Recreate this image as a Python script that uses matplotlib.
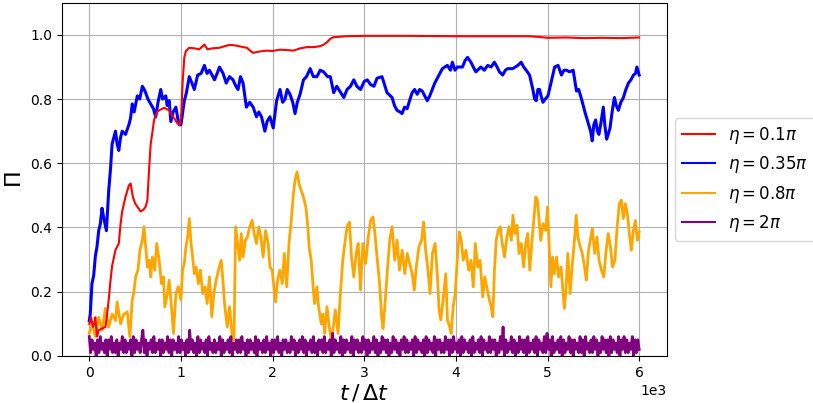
import matplotlib
matplotlib.use("Agg")
import matplotlib.pyplot as plt

# ---- data ----
red_t = [0, 20, 40, 55, 66, 84, 103, 140, 176, 195, 212, 230, 249, 286, 322, 341, 359, 395, 432, 451,
         476, 500, 524, 560, 590, 615, 634, 652, 670, 690, 707, 740, 762, 817, 872, 900, 927, 960, 990, 1005,
         1018, 1037, 1055, 1091, 1150, 1200, 1256, 1290, 1340, 1421, 1480, 1531, 1600, 1678, 1720, 1760, 1788,
         1850, 1934, 2000, 2081, 2150, 2227, 2300, 2374, 2450, 2520, 2560, 2593, 2630, 2667, 2720, 2813, 3000,
         3500, 4000, 4500, 4786, 4900, 5000, 5200, 5400, 5600, 5800, 6000]
red_v = [0.10, 0.12, 0.09, 0.10, 0.12, 0.06, 0.08, 0.085, 0.09, 0.13, 0.175, 0.23, 0.28, 0.33, 0.35, 0.41, 0.45,
         0.495, 0.531, 0.537, 0.495, 0.475, 0.465, 0.45, 0.455, 0.465, 0.485, 0.578, 0.66, 0.70, 0.735, 0.76,
         0.765, 0.773, 0.765, 0.75, 0.74, 0.725, 0.72, 0.76, 0.85, 0.93, 0.95, 0.96, 0.958, 0.955, 0.97, 0.955,
         0.958, 0.96, 0.965, 0.969, 0.967, 0.962, 0.96, 0.95, 0.944, 0.948, 0.951, 0.95, 0.954, 0.953, 0.951,
         0.958, 0.962, 0.962, 0.965, 0.97, 0.977, 0.988, 0.993, 0.994, 0.996, 0.997, 0.997, 0.996, 0.996, 0.996,
         0.994, 0.991, 0.992, 0.99, 0.991, 0.99, 0.992]

blue_t = [0, 11, 29, 48, 66, 84, 103, 121, 139, 158, 187, 212, 231, 249, 268, 286, 304, 322, 341, 359, 395, 432,
          450, 469, 490, 524, 550, 579, 600, 615, 640, 670, 700, 725, 750, 780, 800, 835, 850, 872, 890, 915, 945,
          965, 982, 1000, 1037, 1060, 1091, 1120, 1146, 1183, 1220, 1256, 1285, 1311, 1340, 1366, 1395, 1421, 1460,
          1494, 1530, 1568, 1600, 1623, 1650, 1678, 1714, 1750, 1788, 1824, 1850, 1879, 1900, 1916, 1940, 1971,
          2007, 2044, 2081, 2110, 2136, 2160, 2190, 2220, 2245, 2270, 2300, 2337, 2370, 2410, 2445, 2484, 2520,
          2557, 2600, 2630, 2667, 2700, 2722, 2777, 2813, 2850, 2886, 2920, 2960, 3000, 3033, 3070, 3106, 3140,
          3194, 3249, 3304, 3330, 3358, 3390, 3413, 3440, 3468, 3500, 3523, 3550, 3578, 3605, 3633, 3660, 3688,
          3715, 3743, 3770, 3798, 3853, 3907, 3940, 3962, 3990, 4017, 4072, 4100, 4127, 4164, 4190, 4218, 4273,
          4310, 4347, 4385, 4420, 4450, 4475, 4511, 4540, 4566, 4621, 4676, 4712, 4740, 4767, 4804, 4840, 4860,
          4877, 4895, 4913, 4930, 4950, 4975, 5005, 5042, 5078, 5115, 5152, 5180, 5206, 5240, 5280, 5316, 5340,
          5371, 5408, 5444, 5470, 5488, 5505, 5525, 5545, 5561, 5585, 5609, 5625, 5645, 5662, 5682, 5705, 5730,
          5750, 5773, 5800, 5828, 5855, 5883, 5910, 5938, 5960, 5975, 6000]
blue_v = [0.11, 0.13, 0.225, 0.25, 0.31, 0.34, 0.39, 0.412, 0.46, 0.43, 0.39, 0.515, 0.58, 0.66, 0.68, 0.70, 0.66,
          0.64, 0.68, 0.70, 0.69, 0.72, 0.74, 0.785, 0.76, 0.81, 0.80, 0.84, 0.83, 0.82, 0.80, 0.785, 0.77, 0.745,
          0.79, 0.83, 0.80, 0.81, 0.78, 0.795, 0.73, 0.76, 0.775, 0.74, 0.72, 0.72, 0.795, 0.82, 0.87, 0.85, 0.83,
          0.875, 0.88, 0.905, 0.88, 0.89, 0.875, 0.86, 0.88, 0.90, 0.88, 0.85, 0.87, 0.86, 0.84, 0.83, 0.87, 0.85,
          0.775, 0.79, 0.775, 0.745, 0.76, 0.745, 0.72, 0.70, 0.73, 0.745, 0.71, 0.795, 0.83, 0.79, 0.80, 0.83,
          0.815, 0.79, 0.755, 0.79, 0.815, 0.86, 0.87, 0.895, 0.87, 0.87, 0.89, 0.885, 0.87, 0.87, 0.82, 0.84,
          0.83, 0.805, 0.83, 0.84, 0.86, 0.84, 0.83, 0.855, 0.86, 0.845, 0.84, 0.865, 0.87, 0.82, 0.805, 0.78,
          0.765, 0.76, 0.755, 0.775, 0.77, 0.80, 0.82, 0.83, 0.815, 0.83, 0.825, 0.81, 0.795, 0.81, 0.83, 0.85,
          0.865, 0.895, 0.905, 0.89, 0.915, 0.89, 0.90, 0.90, 0.92, 0.93, 0.915, 0.90, 0.885, 0.90, 0.89, 0.905,
          0.90, 0.915, 0.90, 0.885, 0.875, 0.89, 0.895, 0.895, 0.905, 0.915, 0.90, 0.89, 0.875, 0.83, 0.80, 0.795,
          0.83, 0.83, 0.81, 0.79, 0.80, 0.81, 0.855, 0.90, 0.905, 0.875, 0.89, 0.89, 0.885, 0.89, 0.825, 0.83,
          0.80, 0.76, 0.725, 0.70, 0.67, 0.72, 0.735, 0.70, 0.69, 0.73, 0.775, 0.72, 0.675, 0.69, 0.71, 0.76,
          0.805, 0.78, 0.765, 0.79, 0.805, 0.83, 0.85, 0.86, 0.875, 0.88, 0.90, 0.875]

orange_t = [0, 29, 66, 103, 139, 176, 212, 249, 286, 304, 341, 377, 414, 443, 469, 487, 505, 531, 553, 579, 597,
            615, 634, 652, 670, 689, 714, 736, 762, 788, 810, 824, 853, 872, 897, 919, 945, 971, 1000, 1018, 1037,
            1055, 1073, 1092, 1110, 1128, 1146, 1165, 1190, 1212, 1238, 1264, 1286, 1311, 1337, 1359, 1385, 1410,
            1440, 1458, 1476, 1505, 1531, 1557, 1579, 1597, 1623, 1641, 1659, 1678, 1703, 1725, 1751, 1777, 1799,
            1824, 1850, 1872, 1897, 1923, 1952, 1971, 1996, 2018, 2033, 2055, 2080, 2106, 2128, 2154, 2179, 2201,
            2227, 2245, 2267, 2289, 2311, 2337, 2363, 2385, 2399, 2421, 2440, 2458, 2484, 2502, 2531, 2549, 2568,
            2593, 2619, 2641, 2667, 2685, 2714, 2740, 2766, 2788, 2813, 2839, 2861, 2886, 2912, 2934, 2960, 2985,
            3015, 3044, 3070, 3095, 3117, 3143, 3168, 3190, 3205, 3227, 3253, 3278, 3304, 3333, 3359, 3385, 3414,
            3443, 3469, 3495, 3524, 3546, 3568, 3597, 3626, 3648, 3670, 3696, 3718, 3744, 3773, 3799, 3817, 3835,
            3861, 3890, 3908, 3934, 3949, 3971, 3993, 4015, 4037, 4059, 4081, 4110, 4139, 4165, 4190, 4212, 4238,
            4264, 4293, 4315, 4337, 4366, 4385, 4403, 4421, 4440, 4462, 4484, 4506, 4531, 4557, 4579, 4605, 4623,
            4645, 4667, 4689, 4714, 4740, 4762, 4784, 4806, 4828, 4850, 4872, 4890, 4908, 4926, 4952, 4982, 5000,
            5018, 5037, 5055, 5074, 5099, 5121, 5147, 5165, 5184, 5202, 5221, 5246, 5268, 5294, 5313, 5331, 5357,
            5379, 5404, 5423, 5448, 5467, 5489, 5515, 5540, 5562, 5588, 5614, 5636, 5662, 5687, 5709, 5735, 5760,
            5783, 5805, 5827, 5849, 5871, 5893, 5915, 5937, 5959, 5981, 6000]
orange_v = [0.07, 0.10, 0.06, 0.12, 0.08, 0.148, 0.09, 0.13, 0.11, 0.168, 0.10, 0.13, 0.137, 0.06, 0.174, 0.20,
            0.246, 0.267, 0.33, 0.36, 0.402, 0.34, 0.277, 0.298, 0.246, 0.308, 0.267, 0.35, 0.298, 0.225, 0.246,
            0.153, 0.194, 0.236, 0.153, 0.07, 0.194, 0.215, 0.174, 0.267, 0.288, 0.34, 0.37, 0.428, 0.35, 0.308,
            0.256, 0.277, 0.225, 0.267, 0.194, 0.215, 0.163, 0.246, 0.122, 0.194, 0.236, 0.267, 0.298, 0.236,
            0.163, 0.09, 0.153, 0.07, 0.05, 0.402, 0.34, 0.298, 0.381, 0.308, 0.36, 0.37, 0.402, 0.422, 0.381,
            0.35, 0.402, 0.37, 0.308, 0.39, 0.35, 0.277, 0.267, 0.205, 0.168, 0.236, 0.267, 0.225, 0.319, 0.215,
            0.35, 0.412, 0.505, 0.547, 0.573, 0.536, 0.516, 0.495, 0.464, 0.402, 0.34, 0.298, 0.225, 0.163, 0.215,
            0.153, 0.10, 0.13, 0.07, 0.153, 0.09, 0.05, 0.10, 0.143, 0.07, 0.194, 0.298, 0.35, 0.402, 0.417, 0.308,
            0.246, 0.319, 0.35, 0.205, 0.35, 0.288, 0.37, 0.422, 0.433, 0.381, 0.298, 0.225, 0.122, 0.085, 0.163,
            0.267, 0.36, 0.402, 0.298, 0.36, 0.267, 0.329, 0.256, 0.319, 0.288, 0.256, 0.205, 0.277, 0.34, 0.36,
            0.417, 0.329, 0.267, 0.194, 0.319, 0.35, 0.246, 0.143, 0.112, 0.174, 0.256, 0.112, 0.09, 0.07, 0.153,
            0.194, 0.298, 0.386, 0.36, 0.298, 0.329, 0.267, 0.298, 0.215, 0.35, 0.277, 0.298, 0.184, 0.246, 0.215,
            0.174, 0.153, 0.122, 0.267, 0.36, 0.391, 0.402, 0.35, 0.308, 0.37, 0.402, 0.36, 0.438, 0.381, 0.407,
            0.319, 0.35, 0.277, 0.35, 0.381, 0.267, 0.35, 0.422, 0.495, 0.485, 0.422, 0.36, 0.412, 0.391, 0.464,
            0.34, 0.215, 0.308, 0.256, 0.308, 0.246, 0.277, 0.215, 0.148, 0.205, 0.319, 0.194, 0.277, 0.36, 0.438,
            0.37, 0.34, 0.319, 0.277, 0.236, 0.329, 0.36, 0.397, 0.319, 0.37, 0.298, 0.267, 0.246, 0.319, 0.381,
            0.34, 0.277, 0.298, 0.402, 0.474, 0.485, 0.428, 0.474, 0.443, 0.381, 0.329, 0.391, 0.422, 0.36, 0.386]

# purple series, sampled every 15 time steps, values in hundredths
purple_step = 15
purple_cents = [
    6, 1, 5, 2, 4, 0, 5, 1, 6, 2, 4, 1, 5, 0, 5, 2, 6, 1, 4, 1,
    5, 0, 4, 2, 6, 1, 5, 1, 4, 2, 5, 0, 6, 1, 5, 2, 4, 1, 5, 8,
    1, 5, 0, 4, 2, 5, 1, 6, 1, 4, 2, 5, 0, 5, 1, 4, 2, 6, 1, 5,
    0, 5, 2, 4, 1, 6, 1, 5, 2, 4, 0, 5, 1, 8, 2, 5, 1, 4, 0, 6,
    1, 5, 2, 4, 1, 5, 0, 6, 2, 4, 1, 5, 1, 4, 2, 6, 0, 5, 1, 4,
    2, 5, 1, 6, 0, 4, 2, 5, 1, 5, 1, 6, 2, 4, 0, 5, 1, 5, 2, 4,
    1, 6, 0, 5, 2, 4, 1, 5, 1, 6, 2, 4, 0, 5, 1, 5, 2, 6, 1, 4,
    0, 5, 2, 5, 1, 4, 1, 6, 2, 5, 0, 4, 1, 5, 2, 6, 1, 5, 0, 4,
    2, 5, 1, 6, 1, 4, 0, 5, 2, 5, 1, 6, 1, 4, 2, 5, 0, 7, 1, 5,
    2, 4, 1, 6, 0, 5, 1, 5, 2, 4, 1, 6, 0, 5, 2, 5, 1, 4, 1, 6,
    2, 5, 0, 5, 1, 4, 2, 6, 1, 5, 0, 4, 1, 6, 2, 5, 1, 5, 0, 4,
    1, 6, 2, 5, 1, 4, 0, 5, 2, 6, 1, 5, 1, 4, 2, 5, 0, 6, 1, 5,
    2, 4, 1, 5, 0, 6, 1, 5, 2, 4, 1, 6, 0, 5, 2, 5, 1, 4, 1, 6,
    2, 5, 0, 5, 1, 6, 2, 4, 1, 5, 0, 6, 1, 5, 2, 4, 1, 5, 0, 6,
    1, 4, 2, 5, 1, 6, 0, 5, 2, 4, 1, 6, 1, 5, 2, 5, 0, 4, 1, 6,
    2, 9, 0, 5, 1, 4, 2, 6, 1, 5, 0, 4, 1, 6, 2, 5, 1, 5, 0, 6,
    1, 4, 2, 5, 1, 6, 0, 5, 2, 4, 1, 6, 1, 7, 2, 5, 0, 6, 1, 4,
    2, 5, 1, 6, 0, 5, 1, 4, 2, 6, 1, 5, 0, 5, 2, 4, 1, 6, 1, 5,
    0, 6, 2, 4, 1, 5, 1, 6, 2, 5, 0, 4, 1, 6, 2, 5, 1, 5, 0, 6,
    1, 5, 2, 4, 1, 6, 0, 5, 2, 6, 1, 5, 1, 4, 2, 6, 0, 5, 1, 5,
    2]
purple_t = [i * purple_step for i in range(len(purple_cents))]
purple_v = [c / 100 for c in purple_cents]

labels = [r"$\eta = 0.1\pi$", r"$\eta = 0.35\pi$", r"$\eta = 0.8\pi$", r"$\eta = 2\pi$"]
colors = ["red", "blue", "orange", "purple"]

# ---- figure ----
fig = plt.figure(figsize=(8.13, 4.03), dpi=100)
ax = fig.add_axes([0.076, 0.117, 0.744, 0.876])

ax.plot(red_t, red_v, color=colors[0], lw=1.5, label=labels[0], zorder=4)
ax.plot(blue_t, blue_v, color=colors[1], lw=2.2, label=labels[1], zorder=3)
ax.plot(orange_t, orange_v, color=colors[2], lw=2.0, label=labels[2], zorder=2)
ax.plot(purple_t, purple_v, color=colors[3], lw=2.0, label=labels[3], zorder=2.5)

ax.set_ylim(0, 1.1)
ax.set_yticks([0.0, 0.2, 0.4, 0.6, 0.8, 1.0])
ax.ticklabel_format(style="sci", axis="x", scilimits=(0, 0))
ax.grid(True, color="#b0b0b0", lw=0.8)
ax.set_axisbelow(True)
ax.set_xlabel(r"$t\,/\,\Delta t$", fontsize=16, labelpad=2)
ax.set_ylabel(r"$\Pi$", fontsize=16)

leg = ax.legend(loc="center left", bbox_to_anchor=(1.0, 0.5), fontsize=12, borderaxespad=0.5)
for line in leg.get_lines():
    line.set_linewidth(1.5)

fig.savefig("out.png", dpi=100)
